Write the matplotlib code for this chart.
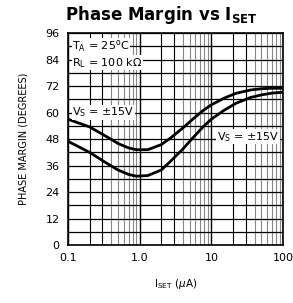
import numpy as np
import matplotlib.pyplot as plt
from matplotlib.ticker import FixedLocator, NullFormatter

# I_SET (uA) and phase margin (degrees)
iset = [0.1, 0.2, 0.35, 0.5, 0.7, 0.9, 1.3, 2.0, 2.65, 4.0, 5.5, 7.7, 10, 15, 22, 35, 50, 70, 100]
pm_upper = [57, 53.5, 49, 46, 44, 43.2, 43.2, 45.5, 48.3, 53, 57, 61, 63.5, 66.5, 68.7, 70.2, 70.8, 71, 71]
pm_lower = [47, 42, 37, 34, 32, 31.2, 31.5, 34, 37.7, 43.5, 48.5, 53.6, 57, 61, 64.2, 66.8, 68, 68.8, 69.2]

xticks = [0.1, 1, 10, 100]
xtick_labels = ['0.1', '1.0', '10', '100']
yticks = list(range(0, 97, 12))

fig = plt.figure(figsize=(2.93, 3.03), dpi=100)
ax = fig.add_axes([0.232, 0.191, 0.734, 0.70])

ax.set_xscale('log')
ax.set_xlim(0.1, 100)
ax.set_ylim(0, 96)

# grid: decades + minors, every 6 degrees
minors = [m * d for d in [0.1, 1, 10] for m in range(2, 10)]
for x in minors:
    m = round(x / 10 ** np.floor(np.log10(x) + 1e-9))
    col = 'black' if m in (2, 3) else '#888888'
    ax.axvline(x, color=col, lw=0.8, zorder=1)
for x in xticks:
    ax.axvline(x, color='black', lw=1.0, zorder=1)
for y in range(0, 97, 6):
    ax.axhline(y, color='black', lw=0.9, zorder=1)

ax.plot(iset, pm_upper, color='black', lw=2.0, zorder=3)
ax.plot(iset, pm_lower, color='black', lw=2.0, zorder=3)

ax.xaxis.set_major_locator(FixedLocator(xticks))
ax.set_xticklabels(xtick_labels)
ax.xaxis.set_minor_formatter(NullFormatter())
ax.set_yticks(yticks)
ax.tick_params(which='both', length=0, labelsize=8, pad=6)
for s in ax.spines.values():
    s.set_linewidth(1.2)

bbox = dict(facecolor='white', edgecolor='none', pad=0.5)
ax.text(0.115, 90, r'$\mathregular{T_A}$ = 25$\mathregular{^o}$C', fontsize=8, va='center', bbox=bbox, zorder=4)
ax.text(0.115, 82.5, r'$\mathregular{R_L}$ = 100 k$\Omega$', fontsize=8, va='center', bbox=bbox, zorder=4)
ax.text(0.115, 60, r'$\mathregular{V_S}$ = $\pm$15V', fontsize=8, va='center', bbox=bbox, zorder=4)
ax.text(12, 49, r'$\mathregular{V_S}$ = $\pm$15V', fontsize=8, va='center', bbox=bbox, zorder=4)

fig.text(0.55, 0.95, r'Phase Margin vs $\mathregular{I_{SET}}$', fontsize=12, fontweight='bold',
         ha='center', va='center')
ax.set_ylabel('PHASE MARGIN (DEGREES)', fontsize=7, labelpad=12)
ax.set_xlabel(r'$\mathregular{I_{SET}}$ ($\mu$A)', fontsize=7.5, labelpad=10)

fig.savefig('out.png', dpi=100)
